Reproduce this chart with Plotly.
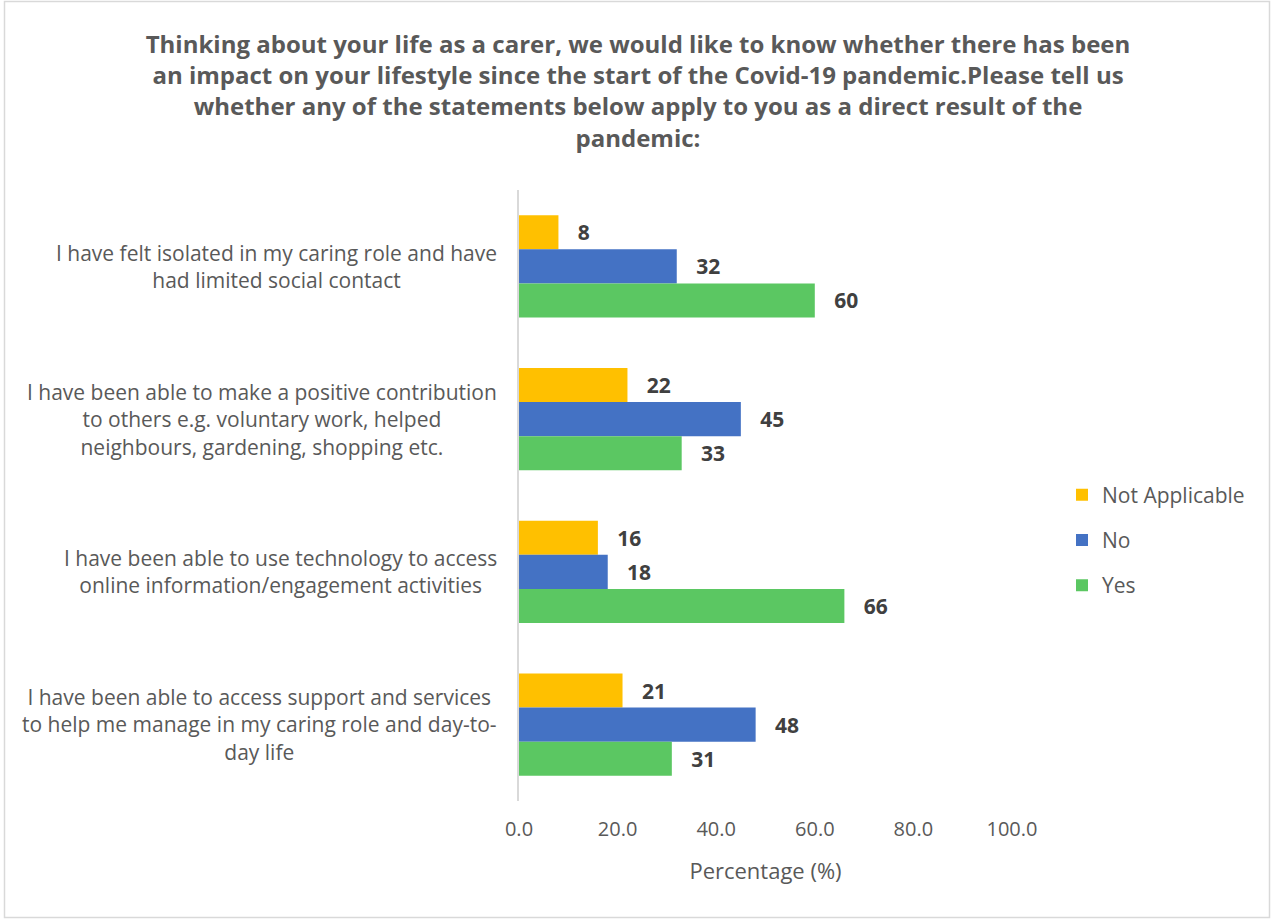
import plotly.graph_objects as go

# Survey statements (top to bottom) and response shares in percent
statements = [
    "I have felt isolated in my caring role and have<br>had limited social contact",
    "I have been able to make a positive contribution<br>to others e.g. voluntary work, helped<br>neighbours, gardening, shopping etc.",
    "I have been able to use technology to access<br>online information/engagement activities",
    "I have been able to access support and services<br>to help me manage in my caring role and day-to-<br>day life",
]
not_applicable = [8, 22, 16, 21]
no = [32, 45, 18, 48]
yes = [60, 33, 66, 31]

series = [
    ("Not Applicable", not_applicable, "#FFC000"),
    ("No", no, "#4472C4"),
    ("Yes", yes, "#5BC762"),
]

x_ticks = [0, 20, 40, 60, 80, 100]

TEXT = "#595959"
FONT = "Open Sans"

fig = go.Figure()
for name, values, color in series:
    fig.add_trace(go.Bar(
        y=statements,
        x=values,
        name=name,
        orientation="h",
        marker=dict(color=color, line=dict(width=0)),
        text=[str(v) for v in values],
        texttemplate="\u00a0\u00a0\u00a0%{text}",
        textposition="outside",
        cliponaxis=False,
        textfont=dict(family=FONT, size=21, color="#404040", weight="bold"),
        legendgroup=name,
    ))

# Category labels, centred line by line and right-aligned against the axis
for s in statements:
    fig.add_annotation(
        x=0, xref="paper", xanchor="right", xshift=-20,
        y=s, yref="y", yanchor="middle",
        text=s, showarrow=False, align="center",
        font=dict(family=FONT, size=21, color=TEXT),
    )

left, right, top, bottom = 519, 259, 190, 118
W, H = 1271, 919
pw, ph = W - left - right, H - top - bottom

# Light outer frame around the whole chart
fig.add_shape(
    type="rect", xref="paper", yref="paper",
    x0=(4.5 - left) / pw, x1=(1269.5 - left) / pw,
    y0=(H - bottom - 917.5) / ph, y1=(H - bottom - 1.5) / ph,
    line=dict(color="#D9D9D9", width=1.5), fillcolor="rgba(0,0,0,0)", layer="below",
)

fig.update_layout(
    width=W, height=H,
    margin=dict(l=left, r=right, t=top, b=bottom, autoexpand=False),
    paper_bgcolor="white", plot_bgcolor="white",
    barmode="group", bargap=0.332, bargroupgap=0,
    font=dict(family=FONT, color=TEXT),
    title=dict(
        text="Thinking about your life as a carer, we would like to know whether there has been<br>"
             "an impact on your lifestyle since the start of the Covid-19 pandemic.Please tell us<br>"
             "whether any of the statements below apply to you as a direct result of the<br>"
             "pandemic:",
        x=638 / W, xanchor="center", y=1 - 53 / H, yanchor="top",
        font=dict(family=FONT, size=24, color=TEXT, weight="bold"),
    ),
    legend=dict(
        x=(1062 - left) / pw, xanchor="left",
        y=(H - bottom - 540) / ph, yanchor="middle",
        font=dict(family=FONT, size=21, color=TEXT),
        tracegroupgap=15, traceorder="grouped",
        bgcolor="rgba(0,0,0,0)",
    ),
    xaxis=dict(
        range=[0, 100], tickvals=x_ticks, tickformat=".1f",
        showgrid=False, zeroline=False, showline=False, ticks="",
        ticklabelstandoff=14,
        tickfont=dict(family=FONT, size=20, color=TEXT),
        title=dict(text="Percentage (%)", font=dict(family=FONT, size=22, color=TEXT), standoff=22),
    ),
    yaxis=dict(
        autorange="reversed", showticklabels=False,
        showgrid=False, zeroline=False, showline=True,
        linecolor="#D9D9D9", linewidth=2, ticks="",
    ),
)

fig.write_html("out.html")
